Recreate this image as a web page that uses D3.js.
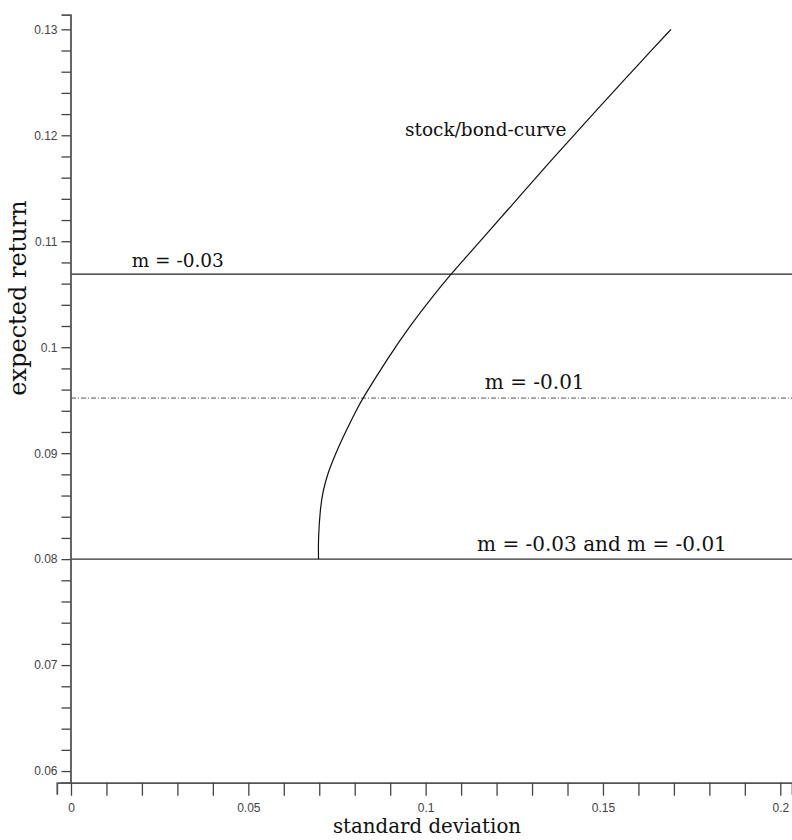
<!DOCTYPE html>
<html>
<head>
<meta charset="utf-8">
<script src="https://cdn.jsdelivr.net/npm/d3@7"></script>
<style>
  html, body { margin: 0; padding: 0; background: #fff; }
  svg { display: block; }
</style>
</head>
<body>
<svg id="chart" width="792" height="840"></svg>
<script>
// ---- data ----
const curveSigma = [0.0698, 0.0697, 0.0703, 0.0711, 0.0724, 0.0742, 0.0762, 0.0805, 0.0823, 0.0890, 0.0953, 0.1027, 0.1072, 0.1106, 0.1180, 0.1264, 0.1345, 0.1410, 0.1507, 0.1543, 0.1650, 0.1692];
const curveMu    = [0.0800, 0.0818, 0.0849, 0.0865, 0.0881, 0.0896, 0.0912, 0.0941, 0.0952, 0.0988, 0.1019, 0.1051, 0.1069, 0.1082, 0.1110, 0.1142, 0.1173, 0.1197, 0.1233, 0.1246, 0.1285, 0.1300];
const lineLabels = ["m = -0.03", "m = -0.01", "m = -0.03 and m = -0.01"];
const lineValues = [0.1069, 0.0952, 0.0800];
const curveLabel = "stock/bond-curve";
const xTicks = d3.range(0, 21).map(i => i / 100);
const xTickLabels = ["0", "0.05", "0.1", "0.15", "0.2"];
const yMajorTicks = [0.06, 0.07, 0.08, 0.09, 0.10, 0.11, 0.12, 0.13];
const yTickLabels = ["0.06", "0.07", "0.08", "0.09", "0.1", "0.11", "0.12", "0.13"];
const yAllTicks = d3.range(0, 36).map(i => +(0.06 + i * 0.002).toFixed(3));
const xTitle = "standard deviation";
const yTitle = "expected return";

// ---- scales ----
const svg = d3.select("#chart");
const x = d3.scaleLinear().domain([-0.004, 0.2033]).range([56.8, 792]);
const y = d3.scaleLinear().domain([0.0589, 0.13138]).range([782.7, 14.7]);

const axisColor = "#555";
const serif = "'DejaVu Serif', serif";
const sans = "'Liberation Sans', Arial, sans-serif";

// ---- horizontal m lines ----
const lineStyles = [null, "5,2,1,2", null];
const lineColors = ["#222", "#555", "#333"];
svg.selectAll("line.m")
  .data(lineValues)
  .join("line")
  .attr("class", "m")
  .attr("x1", x(0)).attr("x2", 792)
  .attr("y1", d => y(d)).attr("y2", d => y(d))
  .attr("stroke", (d, i) => lineColors[i])
  .attr("stroke-width", (d, i) => i === 1 ? 1 : 1.3)
  .attr("stroke-dasharray", (d, i) => lineStyles[i]);

// ---- curve ----
const pts = curveSigma.map((s, i) => [s, curveMu[i]]);
svg.append("path")
  .datum(pts)
  .attr("fill", "none")
  .attr("stroke", "#111")
  .attr("stroke-width", 1.2)
  .attr("d", d3.line().x(d => x(d[0])).y(d => y(d[1])).curve(d3.curveBasis));

// ---- axes ----
const yAxis = d3.axisLeft(y)
  .tickValues(yAllTicks)
  .tickSize(9)
  .tickSizeOuter(9)
  .tickFormat(d => {
    const k = yMajorTicks.findIndex(v => Math.abs(v - d) < 1e-6);
    return k >= 0 ? yTickLabels[k] : "";
  })
  .tickPadding(4);
const gy = svg.append("g").attr("transform", `translate(${x(0) - 0.5},0)`).call(yAxis);

const xAxis = d3.axisBottom(x)
  .tickValues(xTicks)
  .tickSize(13)
  .tickSizeOuter(12)
  .tickFormat(d => {
    const k = [0, 0.05, 0.1, 0.15, 0.2].findIndex(v => Math.abs(v - d) < 1e-6);
    return k >= 0 ? xTickLabels[k] : "";
  })
  .tickPadding(8);
const gx = svg.append("g").attr("transform", `translate(0,${y(0.0589)})`).call(xAxis);

[gx, gy].forEach(g => {
  g.select(".domain").attr("stroke", axisColor).attr("stroke-width", 1.8);
  g.selectAll(".tick line").attr("stroke", "#444").attr("stroke-width", 1.3);
  g.selectAll(".tick text").attr("fill", "#444").style("font-family", sans).style("font-size", "12px");
});

// ---- labels ----
const lblPos = [[0.0171, 0.1069, -7], [0.1167, 0.0952, -9], [0.1145, 0.0800, -8]];
const lblSize = ["18.5px", "20px", "20px"];
svg.selectAll("text.mlabel")
  .data(lineLabels)
  .join("text")
  .attr("class", "mlabel")
  .attr("x", (d, i) => x(lblPos[i][0]))
  .attr("y", (d, i) => y(lblPos[i][1]) + lblPos[i][2])
  .style("font-family", serif)
  .style("font-size", (d, i) => lblSize[i])
  .attr("fill", "#111")
  .text(d => d);

svg.append("text")
  .attr("x", 405).attr("y", 136)
  .style("font-family", serif).style("font-size", "18.5px")
  .attr("fill", "#111")
  .text(curveLabel);

svg.append("text")
  .attr("x", 427).attr("y", 833)
  .attr("text-anchor", "middle")
  .style("font-family", serif).style("font-size", "19.8px")
  .attr("fill", "#111")
  .text(xTitle);

svg.append("text")
  .attr("transform", "translate(26,298) rotate(-90)")
  .attr("text-anchor", "middle")
  .style("font-family", serif).style("font-size", "24px")
  .attr("fill", "#111")
  .text(yTitle);
</script>
</body>
</html>
